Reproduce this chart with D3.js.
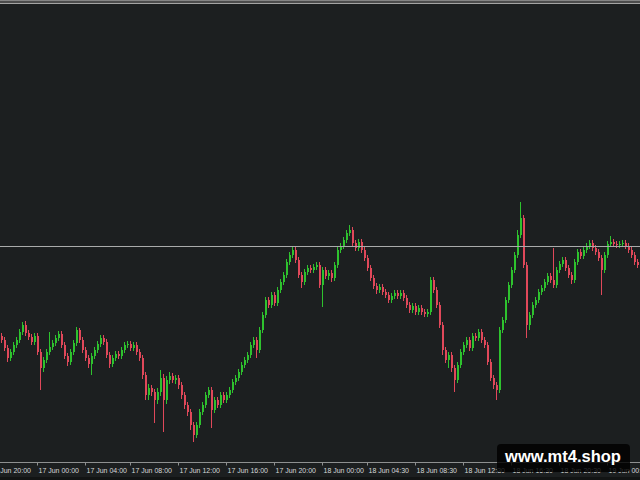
<!DOCTYPE html>
<html>
<head>
<meta charset="utf-8">
<script src="https://cdn.jsdelivr.net/npm/d3@7"></script>
<style>
  html, body { margin: 0; padding: 0; background: #1c1f20; }
  svg { display: block; }
</style>
</head>
<body>
<svg id="chart" width="640" height="480"></svg>
<script>
// ---- DATA (price in points, M15 bars) ----
const opens = [
  144,140,132,122,128,135,140,148,155,147,
  143,138,144,128,112,120,128,133,137,142,
  146,135,124,118,128,137,150,140,130,122,
  116,124,130,136,142,138,125,116,122,126,
  124,130,135,136,132,135,128,122,105,85,
  92,88,80,88,102,80,100,104,100,102,
  95,85,75,68,55,45,55,68,75,85,
  90,70,80,75,85,80,85,90,98,102,
  108,115,120,125,135,140,130,150,165,180,
  175,185,177,190,198,205,218,225,230,220,
  205,198,208,212,210,213,215,195,210,204,
  207,202,215,230,234,240,247,250,237,232,
  238,230,222,212,202,194,190,193,188,185,
  180,184,187,184,187,182,175,170,174,168,
  172,168,166,168,200,190,175,155,130,120,
  125,112,100,115,128,135,140,132,144,142,
  148,140,135,118,102,95,90,150,160,180,
  195,210,225,245,262,215,155,165,175,180,
  188,192,198,204,200,195,210,216,220,212,
  205,200,218,228,224,230,234,237,232,228,
  222,210,225,236,238,236,235,236,237,234,
  230,225,218
];
const closes = [
  140,132,122,128,135,140,148,155,147,143,
  138,144,128,112,120,128,133,137,142,146,
  135,124,118,128,137,150,140,130,122,116,
  124,130,136,142,138,125,116,122,126,124,
  130,135,136,132,135,128,122,105,85,92,
  88,80,88,102,80,100,104,100,102,95,
  85,75,68,55,45,55,68,75,85,90,
  70,80,75,85,80,85,90,98,102,108,
  115,120,125,135,140,130,150,165,180,175,
  185,177,190,198,205,218,225,230,220,205,
  198,208,212,210,213,215,195,210,204,207,
  202,215,230,234,240,247,250,237,232,238,
  230,222,212,202,194,190,193,188,185,180,
  184,187,184,187,182,175,170,174,168,172,
  168,166,168,200,190,175,155,130,120,125,
  112,100,115,128,135,140,132,144,142,148,
  140,135,118,102,95,90,150,160,180,195,
  210,225,245,262,215,155,165,175,180,188,
  192,198,204,200,195,210,216,220,212,205,
  200,218,228,224,230,234,237,232,228,222,
  210,225,236,238,236,235,236,237,234,230,
  225,218,215
];
const highs = [
  147,143,135,131,138,143,151,158,159,150,
  146,147,147,131,123,131,148,140,145,149,
  149,138,127,131,140,153,152,143,133,125,
  127,133,139,145,145,141,128,125,129,129,
  133,138,139,139,138,138,131,125,108,96,
  95,91,92,110,106,104,108,107,105,105,
  98,88,78,71,58,58,71,78,88,93,
  93,83,83,88,88,88,93,101,105,111,
  118,123,128,138,143,143,153,168,183,183,
  188,188,193,201,208,221,228,234,233,223,
  208,211,215,215,216,218,218,213,213,210,
  210,218,233,237,243,250,255,253,240,241,
  241,233,225,215,205,197,196,196,191,188,
  187,190,190,190,190,185,178,177,177,175,
  175,171,171,203,203,193,178,158,133,128,
  128,115,118,131,138,143,143,147,147,151,
  151,143,138,121,105,98,153,163,183,198,
  213,228,250,278,265,218,168,178,183,191,
  195,201,207,207,232,213,219,223,223,215,
  208,221,231,231,233,237,240,240,235,231,
  225,228,239,244,241,239,239,240,240,237,
  233,228,221
];
const lows = [
  137,129,118,119,125,132,137,145,144,140,
  135,135,125,90,108,117,125,130,134,139,
  132,121,114,115,125,134,137,127,119,112,
  105,121,127,133,135,122,112,113,119,121,
  121,127,132,129,129,125,119,101,80,80,
  84,57,76,84,48,76,96,97,96,91,
  81,71,64,50,38,42,52,65,72,82,
  52,67,72,72,77,77,82,87,95,99,
  105,112,117,122,132,122,127,147,162,172,
  172,174,174,187,195,202,215,222,217,202,
  192,195,205,207,207,210,192,173,201,200,
  198,199,212,227,231,237,244,234,229,229,
  227,219,209,199,191,186,187,185,182,177,
  177,181,181,181,179,172,167,167,165,165,
  165,163,163,165,187,172,152,125,117,112,
  108,88,97,112,125,132,129,129,139,139,
  137,132,115,99,91,80,87,147,157,177,
  192,207,222,242,212,142,150,162,172,177,
  185,189,195,197,192,192,207,213,209,202,
  196,197,215,221,221,227,231,229,225,219,
  185,207,222,233,233,232,232,233,231,227,
  222,215,212
];
const levelValue = 234;
const tickIndex = [-4, 12, 28, 43, 59, 75, 91, 107, 122, 138, 154, 170, 186, 202];
const tickLabels = ["16 Jun 20:00","17 Jun 00:00","17 Jun 04:00","17 Jun 08:00","17 Jun 12:00",
  "17 Jun 16:00","17 Jun 20:00","18 Jun 00:00","18 Jun 04:30","18 Jun 08:30",
  "18 Jun 12:30","18 Jun 16:30","18 Jun 20:30","19 Jun 00:30"];
const watermark = "www.mt4.shop";

// ---- DRAW ----
const W = 640, H = 480;
const svg = d3.select("#chart");
const bars = opens.map((o, i) => ({ i, o, h: highs[i], l: lows[i], c: closes[i] }));

const x = d3.scaleLinear().domain([0, bars.length - 1]).range([1, 637]);
const y = d3.scaleLinear().domain([20, 475]).range([460, 5]);

svg.append("rect").attr("width", W).attr("height", H).attr("fill", "#1c1f20");

// top frame band
svg.append("rect").attr("x", 0).attr("y", 0).attr("width", W).attr("height", 1).attr("fill", "#858585");
svg.append("rect").attr("x", 0).attr("y", 1).attr("width", W).attr("height", 2).attr("fill", "#4c4c4c");
svg.append("rect").attr("x", 0).attr("y", 3).attr("width", W).attr("height", 1).attr("fill", "#a4a4a4");

svg.append("clipPath").attr("id", "plot")
  .append("rect").attr("x", 0).attr("y", 4).attr("width", W).attr("height", 458);

const plot = svg.append("g").attr("clip-path", "url(#plot)").attr("shape-rendering", "crispEdges");

const UP = "#2ec22e", DOWN = "#e0485a";

const candle = plot.selectAll("g.c").data(bars).join("g").attr("class", "c");
candle.append("rect")
  .attr("x", d => Math.round(x(d.i)))
  .attr("y", d => y(d.h))
  .attr("width", 1)
  .attr("height", d => Math.max(1, y(d.l) - y(d.h)))
  .attr("fill", d => d.c >= d.o ? UP : DOWN);
candle.append("rect")
  .attr("x", d => Math.round(x(d.i)))
  .attr("y", d => y(Math.max(d.o, d.c)))
  .attr("width", 2)
  .attr("height", d => Math.max(1, Math.abs(y(d.o) - y(d.c))))
  .attr("fill", d => d.c >= d.o ? UP : DOWN);

// horizontal level line
svg.append("line")
  .attr("x1", 0).attr("x2", W)
  .attr("y1", Math.round(y(levelValue)) + 0.5).attr("y2", Math.round(y(levelValue)) + 0.5)
  .attr("stroke", "#a9abab").attr("stroke-width", 1);

// bottom time axis
const axisY = 462.5;
svg.append("line").attr("x1", 0).attr("x2", W).attr("y1", axisY).attr("y2", axisY)
  .attr("stroke", "#8e9090").attr("stroke-width", 1);
const tg = svg.append("g");
tickIndex.forEach((t, k) => {
  const tx = Math.round(x(t)) + 0.5;
  tg.append("line").attr("x1", tx).attr("x2", tx).attr("y1", axisY).attr("y2", axisY + 3)
    .attr("stroke", "#8e9090");
  tg.append("text").attr("x", tx + 1).attr("y", 472.5)
    .attr("font-family", "Liberation Sans, Arial, sans-serif").attr("font-size", 7)
    .attr("fill", "#d6d8d8").text(tickLabels[k]);
});
svg.append("rect").attr("x", 0).attr("y", 477).attr("width", W).attr("height", 3).attr("fill", "#121414");

// watermark
svg.append("rect").attr("x", 497).attr("y", 444).attr("width", 133).attr("height", 28).attr("rx", 4)
  .attr("fill", "#000").attr("fill-opacity", 0.82);
svg.append("text").attr("x", 563).attr("y", 462).attr("text-anchor", "middle")
  .attr("font-family", "Liberation Sans, Arial, sans-serif").attr("font-weight", "bold")
  .attr("font-size", 16.5).attr("fill", "#ffffff").text(watermark);
</script>
</body>
</html>
